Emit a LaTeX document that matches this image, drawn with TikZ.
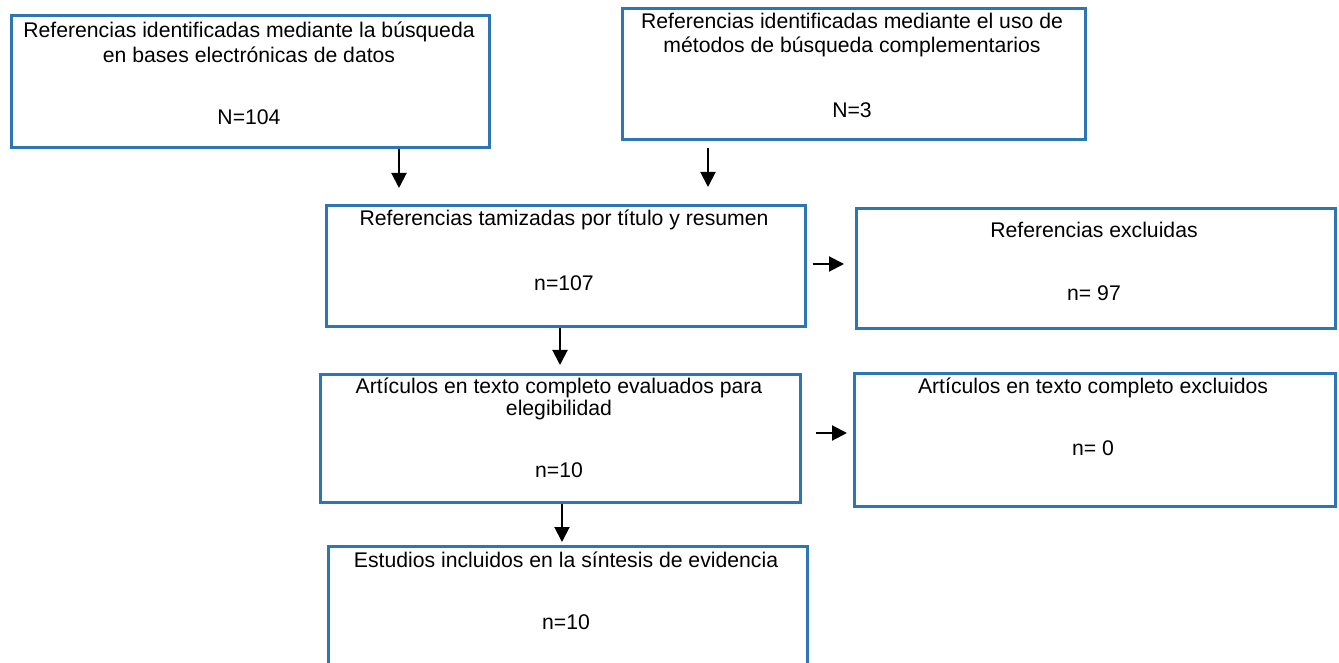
\documentclass[tikz,border=0pt]{standalone}
\usepackage{fontspec}
\setmainfont{Liberation Sans}
\usetikzlibrary{arrows.meta,calc}
\definecolor{azulcaja}{RGB}{46,117,182}
\tikzset{
  caja/.style={draw=azulcaja, line width=1.3pt, inner sep=0pt, anchor=north west},
  texto/.style={align=center, inner sep=0pt, font=\fontsize{10.6}{12.4}\selectfont},
  flecha/.style={line width=1pt, -{Triangle[width=7.5pt,length=7.5pt]}}
}
\begin{document}
\begin{tikzpicture}[x=0.5pt,y=0.5pt]
\clip (0,0) rectangle (1339,-663);
% cajas
\node[caja, minimum width=239pt, minimum height=66pt] (busqbd) at (10,-14) {};
\node[caja, minimum width=231.5pt, minimum height=65.5pt] (metcomp) at (621,-7) {};
\node[caja, minimum width=239.5pt, minimum height=60.5pt] (tamiz) at (325,-204) {};
\node[caja, minimum width=239.5pt, minimum height=60pt] (excl) at (855,-207) {};
\node[caja, minimum width=240pt, minimum height=64pt] (textcomp) at (319,-373) {};
\node[caja, minimum width=240.5pt, minimum height=66.5pt] (exclcomp) at (853,-372) {};
\node[caja, minimum width=239.5pt, minimum height=75pt] (incl) at (327,-545) {};
% textos
\node[texto] (busqbdt) at (249,-42) {Referencias identificadas mediante la búsqueda\\en bases electrónicas de datos};
\node[texto] (busqbdn) at (249,-117) {N=104};
\node[texto] (metcompt) at (852,-35) {Referencias identificadas mediante el uso de\\métodos de búsqueda complementarios};
\node[texto] (metcompn) at (852,-110) {N=3};
\node[texto] (tamizt) at (564,-220) {Referencias tamizadas por título y resumen};
\node[texto] (tamizn) at (564,-283) {n=107};
\node[texto] (exclt) at (1094,-230) {Referencias excluidas};
\node[texto] (excln) at (1094,-293) {n= 97};
\node[texto] (textcompt) at (559,-399) {Artículos en texto completo evaluados para\\[-1.6pt]elegibilidad};
\node[texto] (textcompn) at (559,-470) {n=10};
\node[texto] (exclcompt) at (1093,-388) {Artículos en texto completo excluidos};
\node[texto] (exclcompn) at (1093,-448) {n= 0};
\node[texto] (inclt) at (566,-560) {Estudios incluidos en la síntesis de evidencia};
\node[texto] (incln) at (566,-622) {n=10};
% flechas
\coordinate (fa) at (399,-188);
\coordinate (fb) at (708,-187);
\coordinate (fc) at (560,-365);
\coordinate (fd) at (844,-264);
\coordinate (fe) at (847,-433);
\coordinate (ff) at (562,-542);
\draw[flecha] (busqbd.south -| fa) -- (fa);
\draw[flecha] ($(metcomp.south -| fb)+(0,-7)$) -- (fb);
\draw[flecha] (tamiz.south -| fc) -- (fc);
\draw[flecha] ($(tamiz.east |- fd)+(6,0)$) -- (fd);
\draw[flecha] ($(textcomp.east |- fe)+(14,0)$) -- (fe);
\draw[flecha] (textcomp.south -| ff) -- (ff);
\end{tikzpicture}
\end{document}
